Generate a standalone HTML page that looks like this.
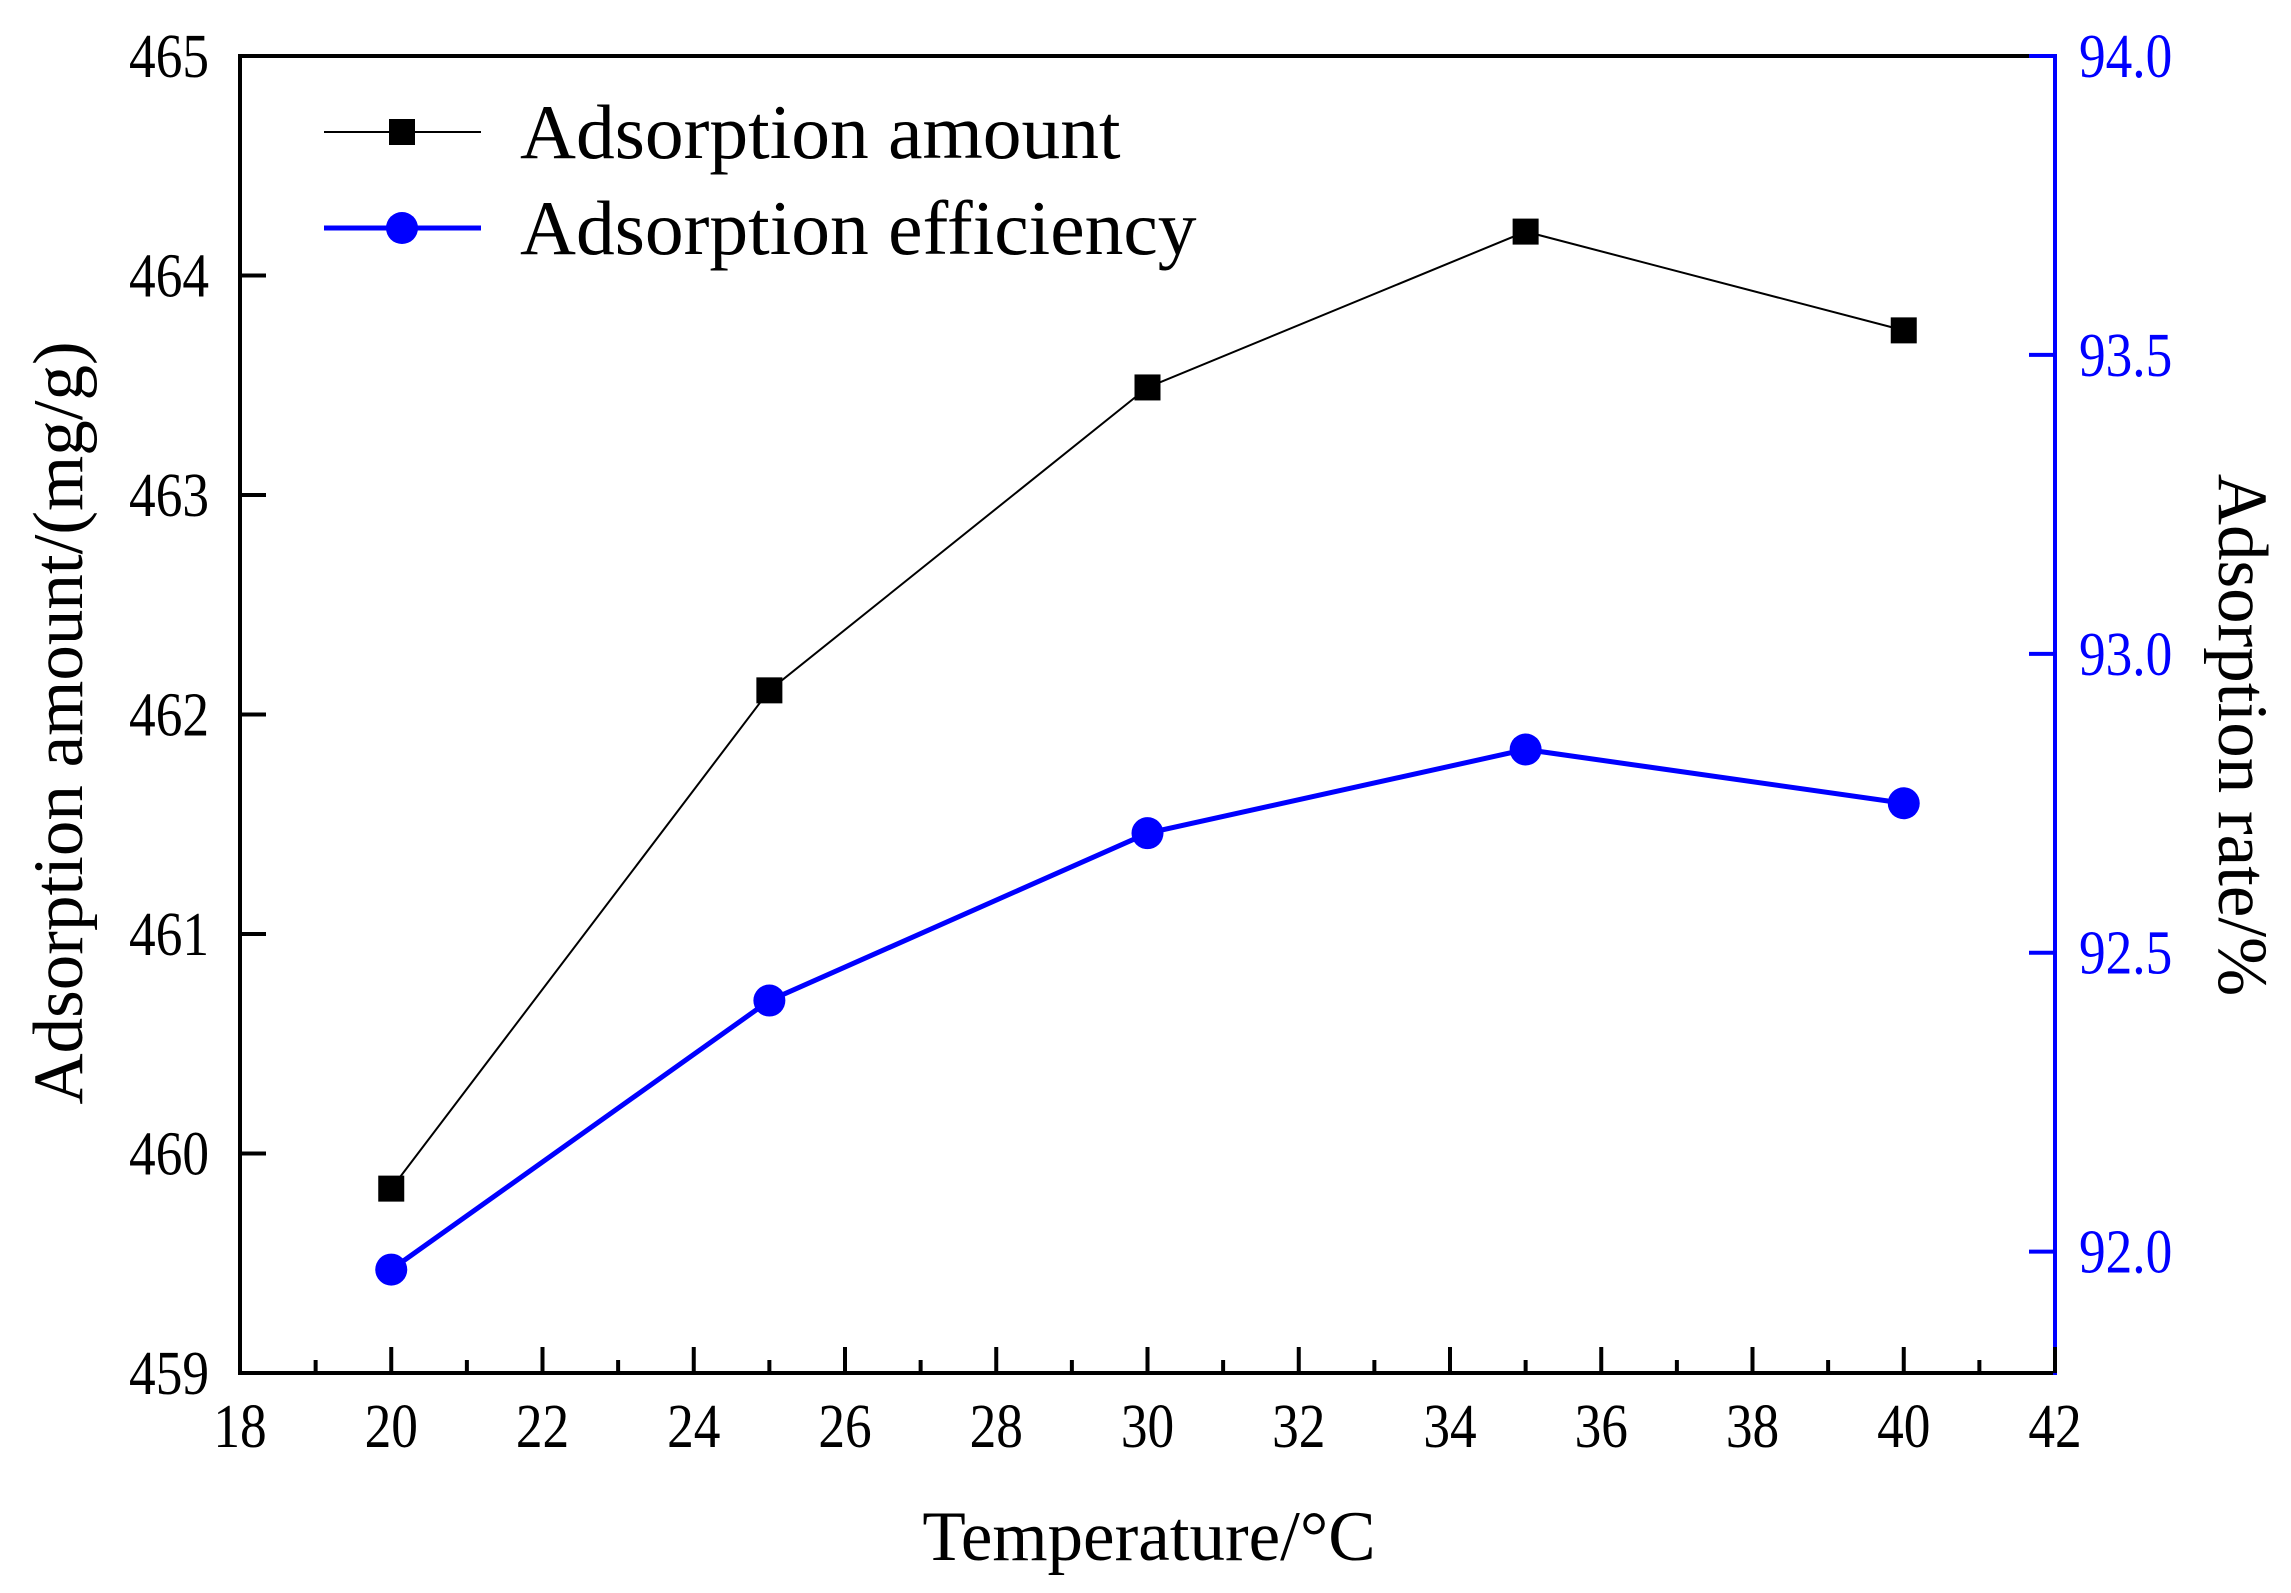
<!DOCTYPE html>
<html><head><meta charset="utf-8"><style>
html,body{margin:0;padding:0;background:#fff;}
svg{display:block;font-family:"Liberation Serif",serif;}
</style></head><body>
<svg id="chart" width="2291" height="1593" viewBox="0 0 2291 1593" xmlns="http://www.w3.org/2000/svg"></svg>
<script>
const temps = [20, 25, 30, 35, 40];
const amountValues = [459.84, 462.11, 463.49, 464.20, 463.75];
const efficiencyValues = [91.97, 92.42, 92.70, 92.84, 92.75];
const xTicks = [18, 20, 22, 24, 26, 28, 30, 32, 34, 36, 38, 40, 42];
const yLeftTicks = [459, 460, 461, 462, 463, 464, 465];
const yRightTicks = ["92.0", "92.5", "93.0", "93.5", "94.0"];

const L = 240, R = 2055, T = 56, B = 1373;
const xMin = 18, xMax = 42, ylMin = 459, ylMax = 465, yrMax = 94.0, yrLow = 91.797;
function sx(v){ return L + (v - xMin) / (xMax - xMin) * (R - L); }
function syl(v){ return B - (v - ylMin) / (ylMax - ylMin) * (B - T); }
function syr(v){ return B - (v - yrLow) / (yrMax - yrLow) * (B - T); }

const svg = document.getElementById('chart');
const NS = 'http://www.w3.org/2000/svg';
function mk(tag, attrs, parent){
  const e = document.createElementNS(NS, tag);
  for (const k in attrs) e.setAttribute(k, attrs[k]);
  (parent || svg).appendChild(e);
  return e;
}
function label(txt, x, y, anchor, color){
  const t = mk('text', {x:0, y:0, 'font-size':62, 'text-anchor':anchor, fill:color,
    transform:'translate(' + x + ',' + y + ') scale(0.86,1)'});
  t.textContent = txt;
  return t;
}

let e;
e = mk('line', {x1:L, y1:T, x2:R, y2:T, stroke:'#000', 'stroke-width':4});


e = mk('line', {x1:L, y1:T-2, x2:L, y2:B+2, stroke:'#000', 'stroke-width':4});


e = mk('line', {x1:L-2, y1:B, x2:R, y2:B, stroke:'#000', 'stroke-width':4});


e = mk('line', {x1:R, y1:T-2, x2:R, y2:B+2, stroke:'#0000ff', 'stroke-width':4});


e = mk('line', {x1:R-24, y1:T, x2:R, y2:T, stroke:'#0000ff', 'stroke-width':4});



xTicks.forEach((v, i) => {
  const x = sx(v);
  const t = mk('line', {x1:x, y1:B, x2:x, y2:B-26, stroke:'#000', 'stroke-width':4});
  
  
  if (i < xTicks.length - 1) {
    const xm = sx(v + 1);
    const m = mk('line', {x1:xm, y1:B, x2:xm, y2:B-13, stroke:'#000', 'stroke-width':4});
    
    
  }
  const lb = label(v, x, 1447, 'middle', '#000');
  
  
});

yLeftTicks.forEach(v => {
  const y = syl(v);
  const t = mk('line', {x1:L, y1:y, x2:L+26, y2:y, stroke:'#000', 'stroke-width':4});
  
  
  const lb = label(v, 209, y+21, 'end', '#000');
  
  
});

yRightTicks.forEach(s => {
  const y = syr(parseFloat(s));
  const t = mk('line', {x1:R, y1:y, x2:R-26, y2:y, stroke:'#0000ff', 'stroke-width':4});
  
  
  const lb = label(s, 2079, y+21, 'start', '#0000ff');
  
  
});

const pa = temps.map((t, i) => sx(t) + ',' + syl(amountValues[i])).join(' ');
e = mk('polyline', {points:pa, fill:'none', stroke:'#000', 'stroke-width':2});


temps.forEach((t, i) => {
  const m = mk('rect', {x:sx(t)-13, y:syl(amountValues[i])-13, width:26, height:26, fill:'#000'});
  
  
});

const pe = temps.map((t, i) => sx(t) + ',' + syr(efficiencyValues[i])).join(' ');
e = mk('polyline', {points:pe, fill:'none', stroke:'#0000ff', 'stroke-width':5});


temps.forEach((t, i) => {
  const m = mk('circle', {cx:sx(t), cy:syr(efficiencyValues[i]), r:16, fill:'#0000ff'});
  
  
});

const lg = mk('g', {});


e = mk('line', {x1:324, y1:132, x2:481, y2:132, stroke:'#000', 'stroke-width':2}, lg);


e = mk('rect', {x:389, y:119, width:26, height:26, fill:'#000'}, lg);


e = mk('text', {x:520, y:158, 'font-size':77.5, fill:'#000'}, lg);
e.textContent = 'Adsorption amount';


e = mk('line', {x1:324, y1:228, x2:481, y2:228, stroke:'#0000ff', 'stroke-width':5}, lg);


e = mk('circle', {cx:402, cy:228, r:16, fill:'#0000ff'}, lg);


e = mk('text', {x:520, y:254, 'font-size':77.5, fill:'#000'}, lg);
e.textContent = 'Adsorption efficiency';



e = mk('text', {x:1149, y:1560, 'font-size':71, 'text-anchor':'middle', fill:'#000'});
e.textContent = 'Temperature/°C';


e = mk('text', {x:0, y:0, 'font-size':71, 'text-anchor':'middle', fill:'#000', transform:'translate(82,723) rotate(-90)'});
e.textContent = 'Adsorption amount/(mg/g)';


e = mk('text', {x:0, y:0, 'font-size':71, 'text-anchor':'middle', fill:'#000', transform:'translate(2219,735) rotate(90)'});
e.textContent = 'Adsorption rate/%';


</script>
</body></html>
